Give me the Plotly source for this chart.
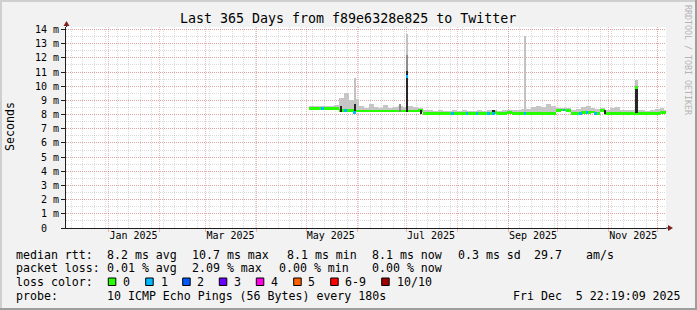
import plotly.graph_objects as go

# ---------------- data ----------------
bin_start = [
    "2025-05-03", "2025-05-06", "2025-05-09", "2025-05-12", "2025-05-15", "2025-05-18", "2025-05-21", "2025-05-24", "2025-05-27", "2025-05-30",
    "2025-06-02", "2025-06-05", "2025-06-08", "2025-06-11", "2025-06-14", "2025-06-17", "2025-06-20", "2025-06-23", "2025-06-26", "2025-06-29",
    "2025-07-02", "2025-07-05", "2025-07-08", "2025-07-11", "2025-07-14", "2025-07-17", "2025-07-20", "2025-07-23", "2025-07-26", "2025-07-29",
    "2025-08-01", "2025-08-04", "2025-08-07", "2025-08-10", "2025-08-13", "2025-08-16", "2025-08-19", "2025-08-22", "2025-08-25", "2025-08-28",
    "2025-08-31", "2025-09-03", "2025-09-06", "2025-09-09", "2025-09-12", "2025-09-15", "2025-09-18", "2025-09-21", "2025-09-24", "2025-09-27",
    "2025-09-30", "2025-10-03", "2025-10-06", "2025-10-09", "2025-10-12", "2025-10-15", "2025-10-18", "2025-10-21", "2025-10-24", "2025-10-27",
    "2025-10-30", "2025-11-02", "2025-11-05", "2025-11-08", "2025-11-11", "2025-11-14", "2025-11-17", "2025-11-20", "2025-11-23", "2025-11-26",
    "2025-11-29", "2025-12-02", "2025-12-05",
]
median_ms = [
    8.44, 8.44, 8.42, 8.44, 8.42, 8.42, 8.30, 8.28, 8.28, 8.26,
    8.25, 8.25, 8.25, 8.25, 8.25, 8.25, 8.25, 8.25, 8.25, 8.25,
    8.25, 8.25, 8.27, 8.10, 8.10, 8.10, 8.10, 8.10, 8.10, 8.10,
    8.10, 8.10, 8.10, 8.10, 8.10, 8.10, 8.10, 8.12, 8.10, 8.10,
    8.17, 8.10, 8.10, 8.10, 8.10, 8.10, 8.10, 8.10, 8.10, 8.10,
    8.30, 8.32, 8.30, 8.10, 8.10, 8.12, 8.15, 8.18, 8.10, 8.28,
    8.10, 8.10, 8.10, 8.10, 8.10, 8.10, 8.10, 8.10, 8.10, 8.10,
    8.10, 8.17, 8.12,
]
smoke_top_ms = [
    8.58, 8.60, 8.58, 8.62, 8.58, 8.66, 9.20, 9.50, 9.00, 9.10,
    8.60, 8.50, 8.75, 8.55, 8.50, 8.70, 8.50, 8.55, 8.60, 8.55,
    8.60, 8.55, 8.45, 8.35, 8.32, 8.25, 8.30, 8.25, 8.28, 8.30,
    8.25, 8.30, 8.28, 8.25, 8.30, 8.28, 8.35, 8.30, 8.28, 8.30,
    8.30, 8.30, 8.35, 8.40, 8.40, 8.55, 8.60, 8.55, 8.75, 8.60,
    8.45, 8.45, 8.45, 8.30, 8.40, 8.55, 8.60, 8.45, 8.40, 8.50,
    8.35, 8.50, 8.55, 8.35, 8.30, 8.35, 8.30, 8.30, 8.28, 8.35,
    8.40, 8.45, 8.30,
]
bin_loss = [
    0, 0, 0, 0, 0, 0, 0, 0, 0, 0,
    0, 0, 0, 0, 0, 0, 0, 0, 0, 0,
    0, 0, 0, 0, 0, 0, 0, 0, 0, 0,
    0, 0, 0, 0, 0, 0, 0, 0, 0, 0,
    0, 0, 0, 0, 0, 0, 0, 0, 0, 0,
    0, 0, 0, 0, 0, 0, 0, 0, 0, 0,
    0, 0, 0, 0, 0, 0, 0, 0, 0, 0,
    0, 0, 0,
]

# short events (spikes, lossy samples)
ev_date = ["2025-05-11", "2025-05-22", "2025-05-25", "2025-05-30 12:00", "2025-06-27", "2025-07-01 12:00",
           "2025-07-10", "2025-07-29", "2025-08-07", "2025-08-13", "2025-08-20", "2025-08-23",
           "2025-09-11", "2025-10-05", "2025-10-15", "2025-10-19", "2025-10-24", "2025-10-30", "2025-11-18"]
ev_median = [8.44, None, 8.28, 8.12, None, 10.67,
             None, 8.10, 8.10, 8.10, 8.10, 8.10,
             8.10, 8.32, 8.10, 8.12, 8.10, None, 9.92]
ev_loss = [1, 0, 1, 1, 0, 1,
           0, 1, 1, 1, 1, 1,
           1, 1, 1, 1, 1, 0, 0]
ev_base = [None, 8.15, None, 8.15, 8.20, 8.15,
           8.05, None, None, None, None, 8.00,
           8.20, None, None, None, None, 8.05, 8.10]
ev_light_top = [None, None, None, 10.55, None, 13.72,
                None, None, None, None, None, None,
                13.53, None, None, None, None, None, 10.43]
ev_mid_top = [None, None, None, None, 8.72, 12.20,
              None, None, None, None, None, None,
              None, None, None, None, None, None, None]
ev_dark_top = [None, 8.62, None, 8.72, None, 11.10,
               8.32, None, None, None, None, 8.30,
               None, None, None, None, None, 8.35, 9.92]

loss_labels = ["0", "1", "2", "3", "4", "5", "6-9", "10/10"]
loss_colors = ["#26ff00", "#00b8ff", "#0059ff", "#6a00ff", "#ff00e6", "#ff5e00", "#ff0000", "#a10000"]

y_ticks = list(range(0, 15))
y_ticktext = ["0\u00a0\u00a0"] + [f"{v} m" for v in range(1, 15)]
month_lines = ["2025-01-01", "2025-02-01", "2025-03-01", "2025-04-01", "2025-05-01", "2025-06-01",
               "2025-07-01", "2025-08-01", "2025-09-01", "2025-10-01", "2025-11-01", "2025-12-01"]
label_pos = ["2025-01-16", "2025-03-16", "2025-05-16", "2025-07-16", "2025-09-16", "2025-11-16"]
label_text = ["Jan 2025", "Mar 2025", "May 2025", "Jul 2025", "Sep 2025", "Nov 2025"]

legend_rows = [
    [(16, "median rtt:"), (107.3, "8.2 ms avg"), (192.3, "10.7 ms max"), (286.7, "8.1 ms min"),
     (372.3, "8.1 ms now"), (457.5, "0.3 ms sd"), (534, "29.7"), (586, "am/s")],
    [(16, "packet loss:"), (107.3, "0.01 % avg"), (192.3, "2.09 % max"), (279.3, "0.00 % min"),
     (372.3, "0.00 % now")],
    [(16, "loss color:")],
    [(16, "probe:"), (107.3, "10 ICMP Echo Pings (56 Bytes) every 180s"), (513, "Fri Dec  5 22:19:09 2025")],
]
legend_y = [254.7, 268.3, 282.3, 296]
square_x = [108.3, 145.7, 182.7, 219.3, 256.3, 293.7, 330.7, 381.7]
square_label_x = [123.3, 160.7, 197.3, 234.3, 271, 308.3, 345.3, 396.7]

# ---------------- layout geometry ----------------
W_PX, H_PX = 697, 310
L, R_EDGE, T, B0 = 66, 666, 27, 228
W, H = R_EDGE - L, B0 - T
DAY = 86400000
X_RANGE = ["2024-12-05 22:19:09", "2025-12-05 22:19:09"]
Y_RANGE = [0, 14.18]
MONO = "DejaVu Sans Mono"


def px_x(p):
    return (p - L) / W


def px_y(p):
    return (B0 - p) / H


fig = go.Figure()

# base smoke
fig.add_trace(go.Bar(
    x=bin_start, y=[t - m for t, m in zip(smoke_top_ms, median_ms)], base=median_ms,
    width=3 * DAY, offset=0, marker=dict(color="#c6c6c6", line=dict(width=0)),
    hoverinfo="skip", showlegend=False))
# base median band coloured by loss
fig.add_trace(go.Bar(
    x=bin_start, y=[0.2] * len(median_ms), base=[m - 0.1 for m in median_ms],
    width=3 * DAY, offset=0, marker=dict(color=[loss_colors[c] for c in bin_loss], line=dict(width=0)),
    hoverinfo="skip", showlegend=False))

# event smoke layers
for tops, col in [(ev_light_top, "#c2c2c2"), (ev_mid_top, "#8c8c8c"), (ev_dark_top, "#262626")]:
    xs, ys, bs = [], [], []
    for d, b, t in zip(ev_date, ev_base, tops):
        if t is not None and b is not None:
            xs.append(d); ys.append(t - b); bs.append(b)
    fig.add_trace(go.Bar(x=xs, y=ys, base=bs, width=1.3 * DAY,
                         marker=dict(color=col, line=dict(width=0)),
                         hoverinfo="skip", showlegend=False))
# event median dots
xs, ys, bs, cs = [], [], [], []
for d, m, c in zip(ev_date, ev_median, ev_loss):
    if m is not None:
        xs.append(d); ys.append(0.2); bs.append(m - 0.1); cs.append(loss_colors[c])
fig.add_trace(go.Bar(x=xs, y=ys, base=bs, width=1.5 * DAY,
                     marker=dict(color=cs, line=dict(width=0)),
                     hoverinfo="skip", showlegend=False))
# dummy trace for label axis
fig.add_trace(go.Scatter(x=[], y=[], xaxis="x2", showlegend=False))

MAJ = "rgba(222,79,79,0.4)"
MIN = "rgba(143,143,143,0.32)"

fig.update_layout(
    width=W_PX, height=H_PX,
    margin=dict(l=L, r=W_PX - R_EDGE, t=T, b=H_PX - B0, pad=0),
    paper_bgcolor="#f2f2f2", plot_bgcolor="#ffffff",
    barmode="overlay", bargap=0,
    font=dict(family=MONO, size=10, color="#000000"),
    xaxis=dict(type="date", range=X_RANGE, tickmode="array", tickvals=month_lines,
               ticktext=[""] * len(month_lines), ticks="outside", ticklen=3, tickcolor=MAJ,
               showgrid=True, gridcolor=MAJ, griddash="1px,1px", gridwidth=1,
               showline=True, linecolor="#1f1f1f", linewidth=1, zeroline=False,
               minor=dict(dtick=7 * DAY, tick0="2024-12-30", showgrid=True, gridcolor=MIN,
                          griddash="1px,1px", gridwidth=1, ticks="")),
    xaxis2=dict(type="date", range=X_RANGE, overlaying="x", anchor="y", side="bottom",
                tickmode="array", tickvals=label_pos, ticktext=label_text, showgrid=False,
                ticks="", showline=False, zeroline=False, tickfont=dict(family=MONO, size=10)),
    yaxis=dict(range=Y_RANGE, tickmode="array", tickvals=y_ticks, ticktext=y_ticktext,
               ticks="outside", ticklen=4, tickcolor="#1f1f1f",
               showgrid=True, gridcolor=MAJ, griddash="1px,1px", gridwidth=1,
               showline=True, linecolor="#1f1f1f", linewidth=1, zeroline=False,
               tickfont=dict(family=MONO, size=10),
               minor=dict(dtick=0.5, tick0=0, showgrid=True, gridcolor=MIN,
                          griddash="1px,1px", gridwidth=1, ticks="")),
)

shapes = []
# frame
shapes.append(dict(type="rect", xref="paper", yref="paper", x0=px_x(0), x1=px_x(W_PX), y0=px_y(0), y1=px_y(2),
                   fillcolor="#cfcfcf", line=dict(width=0), layer="above"))
shapes.append(dict(type="rect", xref="paper", yref="paper", x0=px_x(0), x1=px_x(2), y0=px_y(0), y1=px_y(H_PX),
                   fillcolor="#cfcfcf", line=dict(width=0), layer="above"))
shapes.append(dict(type="rect", xref="paper", yref="paper", x0=px_x(0), x1=px_x(W_PX), y0=px_y(H_PX - 2), y1=px_y(H_PX),
                   fillcolor="#9e9e9e", line=dict(width=0), layer="above"))
shapes.append(dict(type="rect", xref="paper", yref="paper", x0=px_x(W_PX - 2), x1=px_x(W_PX), y0=px_y(0), y1=px_y(H_PX),
                   fillcolor="#9e9e9e", line=dict(width=0), layer="above"))
# axis extensions and arrows
shapes.append(dict(type="line", xref="paper", yref="paper", x0=px_x(L + 0.5), x1=px_x(L + 0.5), y0=1, y1=px_y(24),
                   line=dict(color="#1f1f1f", width=1)))
shapes.append(dict(type="line", xref="paper", yref="paper", x0=1, x1=px_x(670), y0=0, y1=0,
                   line=dict(color="#1f1f1f", width=1)))
shapes.append(dict(type="path", xref="paper", yref="paper",
                   path=f"M {px_x(L - 2.5)} {px_y(26)} L {px_x(L + 3.5)} {px_y(26)} L {px_x(L + 0.5)} {px_y(21)} Z",
                   fillcolor="#801f1f", line=dict(color="#801f1f", width=0)))
shapes.append(dict(type="path", xref="paper", yref="paper",
                   path=f"M {px_x(668)} {px_y(225)} L {px_x(668)} {px_y(231)} L {px_x(673)} {px_y(228)} Z",
                   fillcolor="#801f1f", line=dict(color="#801f1f", width=0)))
# loss color squares
for sx, col in zip(square_x, loss_colors):
    shapes.append(dict(type="rect", xref="paper", yref="paper", x0=px_x(sx), x1=px_x(sx + 7.5),
                       y0=px_y(285.5), y1=px_y(278), fillcolor=col, line=dict(color="#000000", width=1)))
fig.update_layout(shapes=shapes)

ann = []


def text(x, y, s, size=11.6, anchor="left", color="#000000", angle=0):
    ann.append(dict(x=px_x(x), y=px_y(y), xref="paper", yref="paper", text=s.replace(" ", "\u00a0"),
                    showarrow=False, xanchor=anchor, yanchor="middle", textangle=angle,
                    borderpad=0, borderwidth=0,
                    font=dict(family=MONO, size=size, color=color)))


text(347.5, 19, "Last 365 Days from f89e6328e825 to Twitter", size=13.3, anchor="center")
text(10, 127, "Seconds", size=11.6, anchor="center", angle=-90)
text(688, 60, "RRDTOOL / TOBI OETIKER", size=8.3, anchor="center", color="#b4b4b4", angle=90)
for row, y in zip(legend_rows, legend_y):
    for x, s in row:
        text(x, y, s)
for x, s in zip(square_label_x, loss_labels):
    text(x, legend_y[2], s)
fig.update_layout(annotations=ann)

fig.write_html("out.html")
